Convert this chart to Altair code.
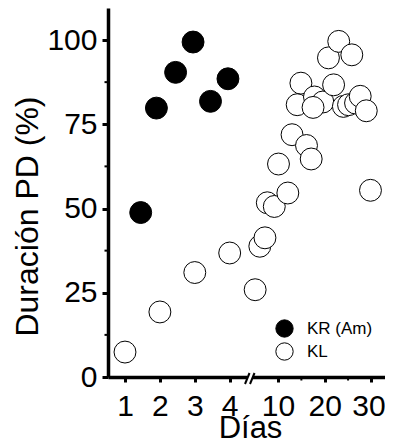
import altair as alt
import pandas as pd

# ---- data ----
groups = ["KR (Am)", "KL"]

kr_days = [1.45, 1.9, 2.45, 2.95, 3.45, 3.95]
kr_vals = [48.8, 79.8, 90.4, 99.4, 81.8, 88.5]

kl_days = [1.0, 2.0, 3.0, 4.0, 5.1, 6.1, 7.2, 7.7, 9.2, 12.1, 10.1, 13.0, 16.1,
           17.1, 29.8, 14.9, 14.1, 17.8, 19.6, 17.5, 21.9, 20.8, 23.0, 25.8,
           24.0, 25.1, 26.6, 27.6, 28.9]
kl_vals = [7.4, 19.3, 31.0, 36.8, 25.9, 38.8, 41.3, 51.7, 50.6, 54.6, 63.2, 71.9,
           68.7, 64.7, 55.4, 87.2, 80.8, 83.1, 81.6, 80.0, 86.7, 94.7, 99.6, 95.6,
           80.3, 80.8, 81.3, 83.3, 79.0]

x_major_first = [1, 2, 3, 4]
x_major_second = [10, 20, 30]
x_minor_second = [15, 25]
y_ticks = [0, 25, 50, 75, 100]
y_minor = [12.5, 37.5, 62.5, 87.5]

# broken axis: days 1-4 on a wide scale, then days 4-30 compressed
BREAK_P = 4.582
K = 0.1338


def pos(d, first=None):
    if first is None:
        first = d <= 4.2
    return d if first else BREAK_P + (d - 4) * K


rows = []
for d, v in zip(kr_days, kr_vals):
    rows.append({"day": d, "val": v, "group": groups[0], "p": pos(d)})
for d, v in zip(kl_days, kl_vals):
    rows.append({"day": d, "val": v, "group": groups[1], "p": pos(d)})
df = pd.DataFrame(rows)

x_tick_pos = [pos(d, True) for d in x_major_first] + [pos(d, False) for d in x_major_second]
x_minor_df = pd.DataFrame({"p": [pos(d, False) for d in x_minor_second]})
y_minor_df = pd.DataFrame({"val": y_minor})
brk_df = pd.DataFrame({"p": [BREAK_P]})

FONT = "Liberation Sans"
W, H = 277, 369
x_scale = alt.Scale(domain=[0.513, 8.45], nice=False, zero=False)
y_scale = alt.Scale(domain=[0, 109.5], nice=False)

label_expr = ("datum.value < 4.3 ? format(datum.value, 'd') : "
              "format(round(4 + (datum.value - %s) / %s), 'd')" % (BREAK_P, K))

X_AXIS = alt.Axis(values=x_tick_pos, labelExpr=label_expr, title="Días",
                  tickSize=5, labelPadding=9, titleX=142, titleY=60,
                  titleAlign="center", titleBaseline="alphabetic", titleFontSize=31,
                  labelOffset=alt.condition("datum.value > 7.5", alt.value(-3), alt.value(0)))
Y_AXIS = alt.Axis(values=y_ticks, title="Duración PD (%)", tickSize=6,
                  labelPadding=5, titleAngle=270, titleX=-71, titleY=208,
                  titleAlign="center", titleBaseline="alphabetic")

points = alt.Chart(df).mark_point(
    filled=True, shape="circle", size=480, stroke="black", strokeWidth=1,
    opacity=1, fillOpacity=1
).encode(
    x=alt.X("p:Q", scale=x_scale, axis=X_AXIS, title="Días"),
    y=alt.Y("val:Q", scale=y_scale, axis=Y_AXIS, title="Duración PD (%)"),
    fill=alt.Fill("group:N",
                  scale=alt.Scale(domain=groups, range=["black", "white"]),
                  legend=alt.Legend(title=None, orient="none", legendX=167,
                                    legendY=311, labelFontSize=17, labelFont=FONT,
                                    labelColor="black", symbolType="circle",
                                    symbolSize=300, symbolStrokeColor="black",
                                    symbolStrokeWidth=1, labelOffset=13,
                                    rowPadding=0, padding=0)),
)

y_minor_ticks = alt.Chart(y_minor_df).mark_rule(color="black", strokeWidth=2).encode(
    y=alt.Y("val:Q", scale=y_scale, title="Duración PD (%)"),
    x=alt.value(-3.5), x2=alt.value(0),
)

x_minor_ticks = alt.Chart(x_minor_df).mark_rule(color="black", strokeWidth=2).encode(
    x=alt.X("p:Q", scale=x_scale, title="Días"),
    y=alt.value(H), y2=alt.value(H + 3.5),
)

gap = alt.Chart(brk_df).mark_rect(color="white", xOffset=-3, x2Offset=3).encode(
    x=alt.X("p:Q", scale=x_scale, title="Días"), x2="p:Q",
    y=alt.value(H - 4), y2=alt.value(H + 4),
)
slash1 = alt.Chart(brk_df).mark_rule(color="black", strokeWidth=2, xOffset=-5,
                                     x2Offset=-0.5).encode(
    x=alt.X("p:Q", scale=x_scale, title="Días"), x2="p:Q",
    y=alt.value(H + 7), y2=alt.value(H - 4),
)
slash2 = alt.Chart(brk_df).mark_rule(color="black", strokeWidth=2, xOffset=0,
                                     x2Offset=4.5).encode(
    x=alt.X("p:Q", scale=x_scale, title="Días"), x2="p:Q",
    y=alt.value(H + 7), y2=alt.value(H - 4),
)

chart = alt.layer(points, y_minor_ticks, x_minor_ticks, gap, slash1, slash2).properties(
    width=W, height=H,
    autosize=alt.AutoSizeParams(type="none"),
    padding={"left": 100, "top": 0, "right": 0, "bottom": 62},
).configure_view(stroke=None).configure_axis(
    grid=False, domainColor="black", domainWidth=3.5, tickColor="black",
    tickWidth=3, labelFont=FONT, labelFontSize=30, labelColor="black",
    titleFont=FONT, titleFontSize=32, titleColor="black", titleFontWeight="normal",
    labelOverlap=False, labelFlush=False,
)

chart.save("out.html", embed_options={"renderer": "svg", "actions": False})
